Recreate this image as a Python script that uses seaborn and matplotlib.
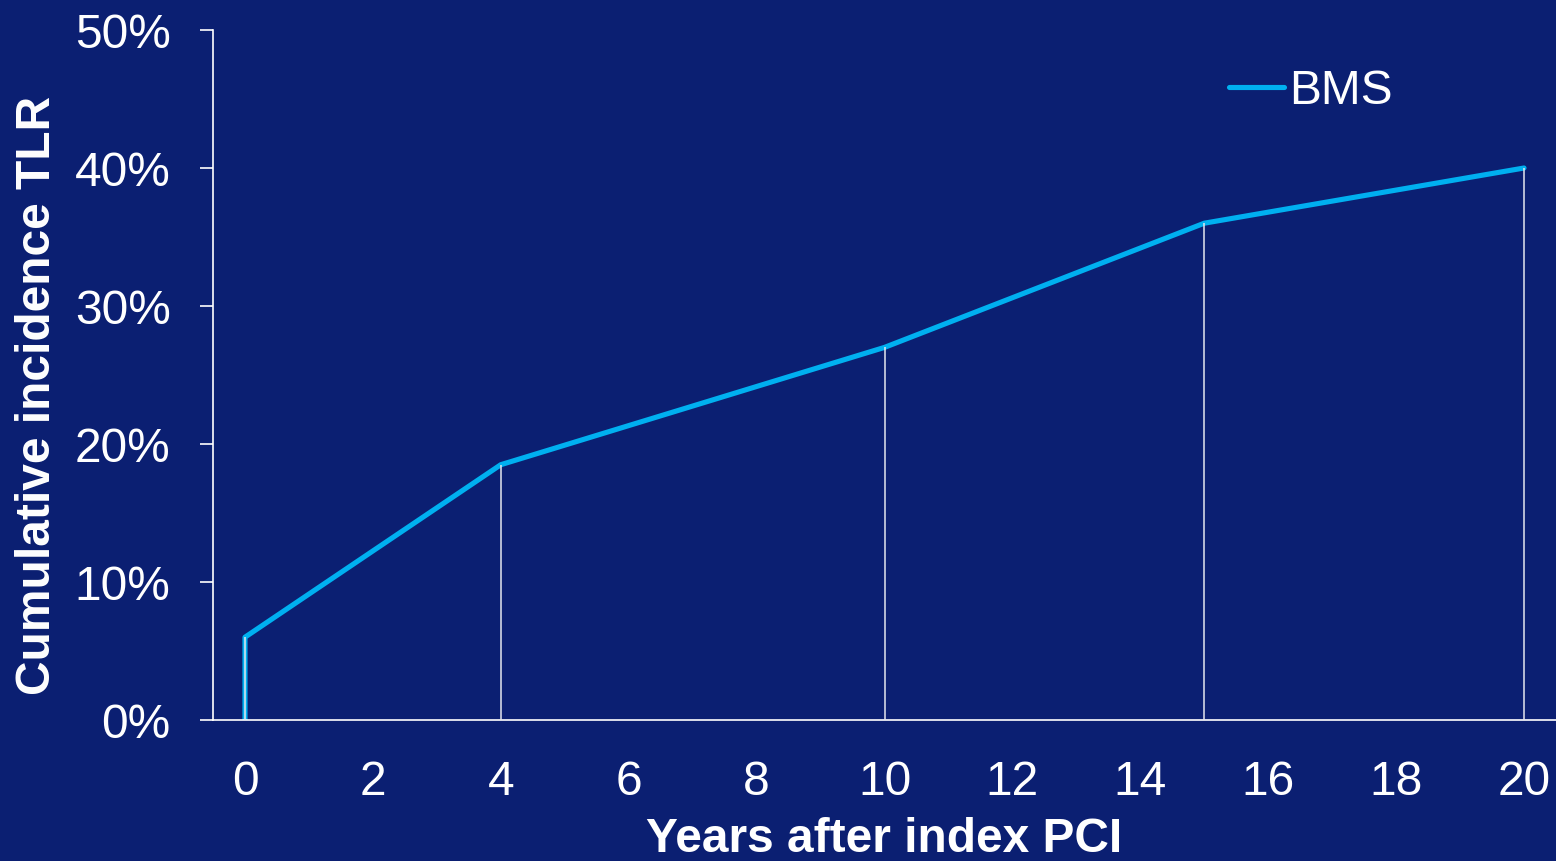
import matplotlib
matplotlib.use("Agg")
import matplotlib.pyplot as plt
import seaborn as sns
import pandas as pd

# Cumulative incidence of target lesion revascularisation after bare-metal stenting
years = [0, 0, 4, 10, 15, 20]
tlr_pct = [0, 6, 18.5, 27, 36, 40]
series_name = "BMS"

x_ticks = [0, 2, 4, 6, 8, 10, 12, 14, 16, 18, 20]
y_ticks = [0, 10, 20, 30, 40, 50]
y_tick_labels = ["0%", "10%", "20%", "30%", "40%", "50%"]

BG = "#0b1f72"
LINE = "#00b0f0"
FG = "white"

sns.set_theme(style="white")
plt.rcParams["font.family"] = ["Liberation Sans", "DejaVu Sans"]

df = pd.DataFrame({"year": years, "tlr": tlr_pct, "group": series_name})

fig = plt.figure(figsize=(15.56, 8.61), dpi=100, facecolor=BG)
ax = fig.add_axes([213 / 1556, 1 - 720 / 861, (1556 - 213) / 1556, 690 / 861])
ax.set_facecolor(BG)

sns.lineplot(data=df, x="year", y="tlr", hue="group", palette=[LINE],
             estimator=None, sort=False, linewidth=3.7, ax=ax, zorder=2)

# thin drop lines from each reported time point down to the axis
ax.vlines(years[1:], 0, tlr_pct[1:], colors="#e4e6ee", linewidth=1.1, zorder=3)

ax.set_xlim(-0.5, 20.5)
ax.set_ylim(0, 50)
ax.set_xticks(x_ticks)
ax.set_xticklabels([str(t) for t in x_ticks])
ax.set_yticks(y_ticks)
ax.set_yticklabels(y_tick_labels)

for side in ("top", "right"):
    ax.spines[side].set_visible(False)
for side in ("left", "bottom"):
    ax.spines[side].set_color(FG)
    ax.spines[side].set_linewidth(1.2)

ax.tick_params(axis="y", which="both", left=True, length=9.5, width=1.2,
               color=FG, labelcolor=FG, labelsize=34.5, pad=21)
ax.tick_params(axis="x", which="both", bottom=False, length=0,
               labelcolor=FG, labelsize=34.5, pad=28.5)

ax.set_xlabel("Years after index PCI", fontsize=34.5, fontweight="bold", color=FG)
ax.set_ylabel("Cumulative incidence TLR", fontsize=34.5, fontweight="bold", color=FG)
ax.xaxis.set_label_coords(0.5, -0.141)
ax.yaxis.set_label_coords(-0.114, 0.47)

leg = ax.legend(loc="upper left", bbox_to_anchor=(1229 / 1556, 1 - 69 / 861),
                bbox_transform=fig.transFigure, frameon=False, fontsize=34.5,
                handlelength=1.15, handletextpad=0.1, borderpad=0, borderaxespad=0)
for txt in leg.get_texts():
    txt.set_color(FG)
for h in leg.get_lines():
    h.set_linewidth(3.7)

fig.savefig("out.png", dpi=100, facecolor=BG)
